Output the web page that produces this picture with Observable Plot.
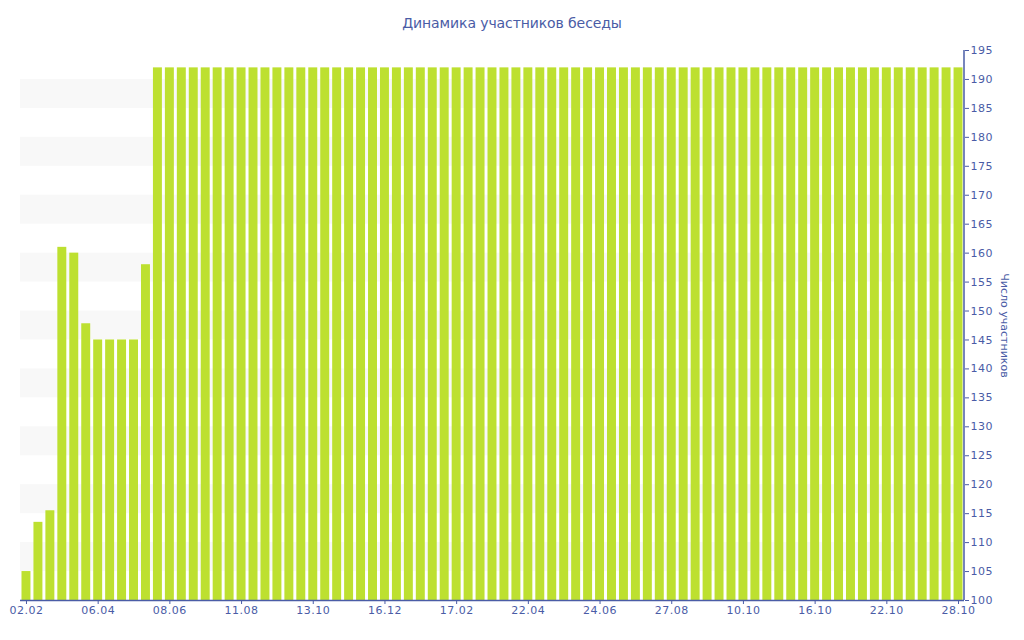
<!DOCTYPE html>
<html>
<head>
<meta charset="utf-8">
<script src="https://cdn.jsdelivr.net/npm/d3@7"></script>
<script src="https://cdn.jsdelivr.net/npm/@observablehq/plot@0.6"></script>
<style>
  html, body { margin: 0; padding: 0; background: #fff; }
  #title { height: 40px; line-height: 46px; text-align: center; font-family: "DejaVu Sans", Verdana, sans-serif; font-size: 14px; color: #4a5ca6; letter-spacing: -0.1px; }
  #chart svg g[aria-label="x-axis tick label"] text,
  #chart svg g[aria-label="y-axis tick label"] text { letter-spacing: 0.5px; }
</style>
</head>
<body>
<div id="title">Динамика участников беседы</div>
<div id="chart"></div>
<script>
// Data
const tickLabels = ["02.02","06.04","08.06","11.08","13.10","16.12","17.02","22.04","24.06","27.08","10.10","16.10","22.10","28.10"];
const tickEvery = 6;
const values = [
  105, 113.5, 115.5, 161, 160, 147.8, 145, 145, 145, 145, 158,
  192,192,192,192,192,192,192,192,192,192,
  192,192,192,192,192,192,192,192,192,192,
  192,192,192,192,192,192,192,192,192,192,
  192,192,192,192,192,192,192,192,192,192,
  192,192,192,192,192,192,192,192,192,192,
  192,192,192,192,192,192,192,192,192,192,
  192,192,192,192,192,192,192,192
];
const yTicks = d3.range(100, 196, 5);
const stripes = d3.range(105, 190, 10);
const yLabel = "Число участников";

const axisColor = "#4a5ca6";
const barColor = "#bde030";

const data = values.map((v, i) => ({i, v}));
const tickPositions = tickLabels.map((_, k) => k * tickEvery);

const plot = Plot.plot({
  width: 1024,
  height: 600,
  marginTop: 10,
  marginBottom: 40,
  marginLeft: 20,
  marginRight: 60,
  style: {fontFamily: "DejaVu Sans, Verdana, sans-serif", fontSize: "11px", color: axisColor, background: "#fff"},
  x: {type: "band", domain: d3.range(values.length), paddingInner: 0.25, paddingOuter: 0.125},
  y: {domain: [100, 195]},
  marks: [
    Plot.rect(stripes, {y1: d => d, y2: d => d + 5, fill: "#f8f8f8"}),
    Plot.barY(data, {x: "i", y1: 100, y2: "v", fill: barColor}),
    Plot.ruleY([100], {stroke: axisColor, strokeWidth: 1.5}),
    Plot.axisX({ticks: tickPositions, tickFormat: d => tickLabels[d / tickEvery], tickSize: 4, tickPadding: 2, stroke: axisColor, fill: axisColor, label: null, fontSize: 11}),
    Plot.axisY({anchor: "right", ticks: yTicks, tickSize: 4, tickPadding: 2, stroke: axisColor, fill: axisColor, label: null, fontSize: 11}),
    Plot.text([yLabel], {frameAnchor: "right", textAnchor: "middle", dx: 40, rotate: 90, fill: axisColor, fontSize: 11})
  ]
});
document.getElementById("chart").appendChild(plot);

// right axis line using plot's y scale
const ys = plot.scale("y");
const svg = d3.select(plot.tagName === "svg" ? plot : plot.querySelector("svg"));
svg.append("line")
  .attr("x1", 1024 - 60).attr("x2", 1024 - 60)
  .attr("y1", ys.range[0]).attr("y2", ys.range[1])
  .attr("stroke", axisColor).attr("stroke-width", 1.5);
</script>
</body>
</html>
